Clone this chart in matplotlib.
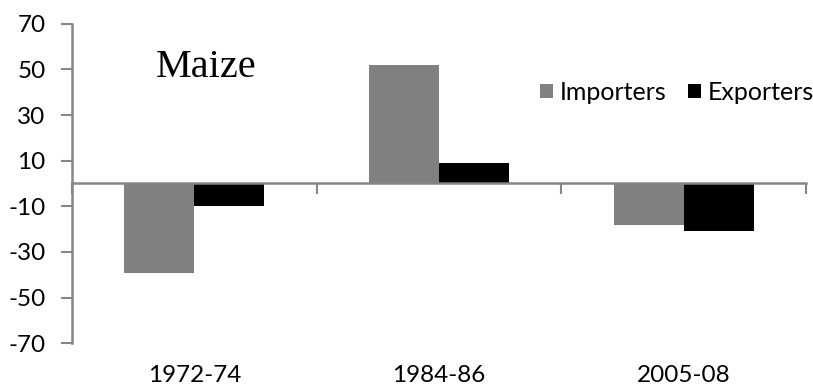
import matplotlib
matplotlib.use("Agg")
import matplotlib.pyplot as plt
import numpy as np

periods = ["1972-74", "1984-86", "2005-08"]
importers = [-39, 52, -18]
exporters = [-10, 9, -21]
yticks = [-70, -50, -30, -10, 10, 30, 50, 70]

W, H, DPI = 813, 392, 100
fig = plt.figure(figsize=(W / DPI, H / DPI), dpi=DPI)
ax = fig.add_axes([72 / W, 1 - 343.3 / H, (806 - 72) / W, (343.3 - 23.7) / H])

font = "Lato"
fs = 17.5
axis_gray = "#868686"

x = np.arange(len(periods))
bw = 0.286
ax.bar(x - bw / 2, importers, bw, color="#808080", label="Importers", zorder=2)
ax.bar(x + bw / 2, exporters, bw, color="#000000", label="Exporters", zorder=2)

ax.set_xlim(-0.5, len(periods) - 0.5)
ax.set_ylim(-70, 70)
ax.set_yticks(yticks)
ax.set_yticklabels([str(v) for v in yticks], fontsize=fs, family=font)

# category axis drawn at zero with boundary ticks pointing down
for side in ("right", "bottom"):
    ax.spines[side].set_visible(False)
ax.spines["top"].set_position(("data", 0))
ax.spines["top"].set_color(axis_gray)
ax.spines["top"].set_linewidth(1.8)
ax.spines["top"].set_zorder(3)
ax.spines["left"].set_color(axis_gray)
ax.spines["left"].set_linewidth(1.8)

ax.set_xticks(x)
ax.set_xticklabels(periods, fontsize=fs, family=font)
ax.set_xticks(np.arange(len(periods) + 1) - 0.5, minor=True)
ax.tick_params(axis="x", which="major", bottom=True, top=False, length=0, pad=15.5)
ax.tick_params(axis="x", which="minor", bottom=False, top=True, direction="in",
               length=8, width=1.5, color=axis_gray)
ax.tick_params(axis="y", which="major", length=8, width=1.5, color=axis_gray, pad=11)

fig.text(156 / W, 1 - 77 / H, "Maize", family="Liberation Serif", fontsize=29,
         va="baseline", ha="left")

leg = ax.legend(loc="center left", bbox_to_anchor=(540 / W, 1 - 92 / H),
                bbox_transform=fig.transFigure, ncol=2, frameon=False,
                prop={"family": font, "size": 18}, handlelength=0.5,
                handleheight=0.5, handletextpad=0.3, columnspacing=0.85,
                borderaxespad=0, borderpad=0)

fig.savefig("out.png", dpi=DPI)
